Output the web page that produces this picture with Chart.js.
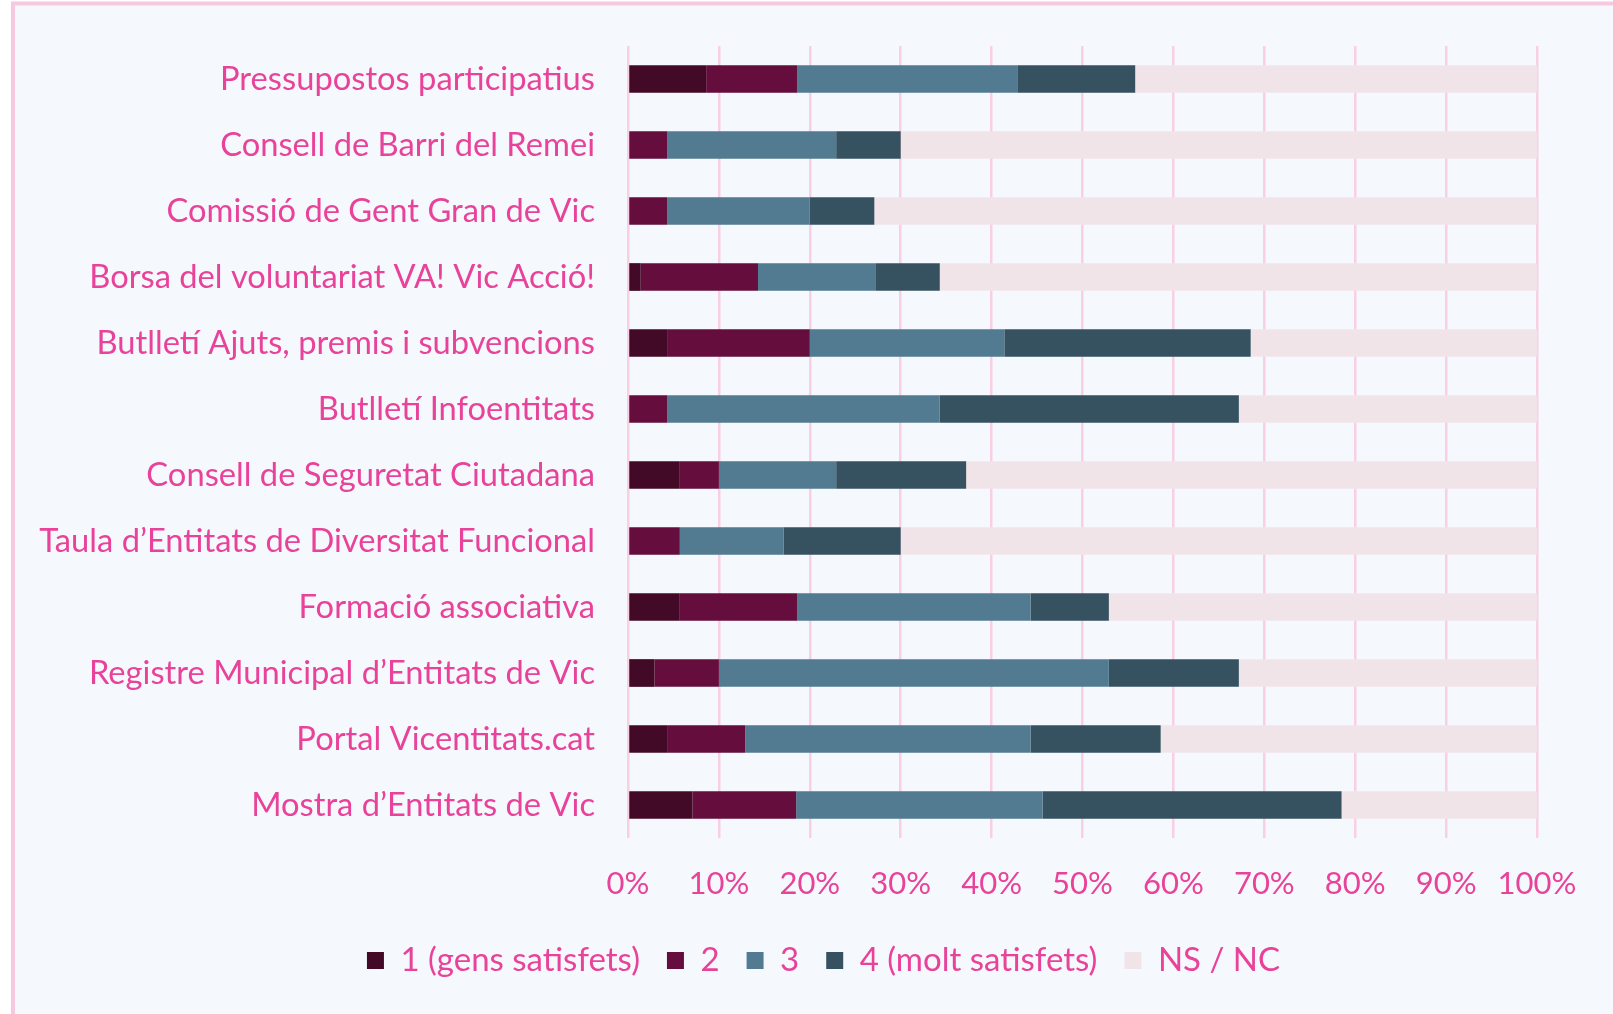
<!DOCTYPE html>
<html>
<head>
<meta charset="utf-8">
<script src="https://cdn.jsdelivr.net/npm/chart.js@4/dist/chart.umd.min.js"></script>
<style>
  html, body { margin: 0; padding: 0; background: #ffffff; }
  #wrap { position: relative; width: 1613px; height: 1014px; }
</style>
</head>
<body>
<div id="wrap"><canvas id="c" width="1613" height="1014"></canvas></div>
<script>
const categories = [
  "Pressupostos participatius",
  "Consell de Barri del Remei",
  "Comissió de Gent Gran de Vic",
  "Borsa del voluntariat VA! Vic Acció!",
  "Butlletí Ajuts, premis i subvencions",
  "Butlletí Infoentitats",
  "Consell de Seguretat Ciutadana",
  "Taula d’Entitats de Diversitat Funcional",
  "Formació associativa",
  "Registre Municipal d’Entitats de Vic",
  "Portal Vicentitats.cat",
  "Mostra d’Entitats de Vic"
];
const seriesNames = ["1 (gens satisfets)", "2", "3", "4 (molt satisfets)", "NS / NC"];
const gensSatisfets = [8.6, 0, 0, 1.4, 4.3, 0, 5.7, 0, 5.7, 2.9, 4.3, 7.1];
const valor2 =        [10.0, 4.3, 4.3, 12.9, 15.7, 4.3, 4.3, 5.7, 12.9, 7.1, 8.6, 11.4];
const valor3 =        [24.3, 18.6, 15.7, 12.9, 21.4, 30.0, 12.9, 11.4, 25.7, 42.9, 31.4, 27.1];
const moltSatisfets = [12.9, 7.1, 7.1, 7.1, 27.1, 32.9, 14.3, 12.9, 8.6, 14.3, 14.3, 32.9];
const nsnc =          [44.2, 70.0, 72.9, 65.7, 31.5, 32.8, 62.8, 70.0, 47.1, 32.8, 41.4, 21.5];
const xTicks = [0, 10, 20, 30, 40, 50, 60, 70, 80, 90, 100];

const colors = ["#430A27", "#650D3C", "#527B91", "#365260", "#F0E4E9"];
const pink = "#E8429A";
const family = "Lato, 'Open Sans', sans-serif";

const seriesValues = [gensSatisfets, valor2, valor3, moltSatisfets, nsnc];
const datasets = seriesNames.map((name, i) => ({
  label: name,
  data: seriesValues[i],
  backgroundColor: colors[i],
  borderWidth: 0,
  barPercentage: 0.42,
  categoryPercentage: 1.0
}));

const framePlugin = {
  id: 'frame',
  beforeDraw(chart) {
    const ctx = chart.ctx;
    ctx.save();
    ctx.fillStyle = '#ffffff';
    ctx.fillRect(0, 0, chart.width, chart.height);
    ctx.fillStyle = '#F5F9FD';
    ctx.fillRect(13, 3, chart.width - 13, chart.height - 3);
    ctx.strokeStyle = '#F7C9E1';
    ctx.lineWidth = 4;
    ctx.beginPath();
    ctx.moveTo(13, chart.height);
    ctx.lineTo(13, 3.5);
    ctx.lineTo(chart.width, 3.5);
    ctx.stroke();
    ctx.restore();
  },
  afterLayout(chart) {
    // centre the legend row slightly right, as in the original
    if (chart.legend) {
      chart.legend.left += 55;
      chart.legend.right += 55;
    }
  }
};

new Chart(document.getElementById('c'), {
  type: 'bar',
  data: { labels: categories, datasets },
  plugins: [framePlugin],
  options: {
    indexAxis: 'y',
    responsive: false,
    animation: false,
    devicePixelRatio: 1,
    layout: { padding: { top: 46, right: 76, left: 0, bottom: 27 } },
    scales: {
      x: {
        stacked: true,
        min: 0,
        max: 100,
        afterBuildTicks(scale) { scale.ticks = xTicks.map(v => ({ value: v })); },
        afterFit(scale) { scale.height = 79; },
        ticks: { color: pink, font: { family, size: 31 }, padding: 27, maxRotation: 0, callback: v => v + '%' },
        grid: { color: '#F9CFE4', lineWidth: 2.5, drawTicks: false },
        border: { display: false }
      },
      y: {
        stacked: true,
        afterFit(scale) { scale.width = 628; scale.paddingTop = 0; scale.paddingBottom = 0; },
        ticks: { color: pink, font: { family, size: 32.7 }, padding: 33 },
        grid: { display: false, drawTicks: false },
        border: { display: false }
      }
    },
    plugins: {
      legend: {
        position: 'bottom',
        labels: { color: pink, font: { family, size: 33 }, boxWidth: 17, boxHeight: 17, padding: 27 }
      },
      tooltip: { enabled: false }
    }
  }
});
</script>
</body>
</html>
